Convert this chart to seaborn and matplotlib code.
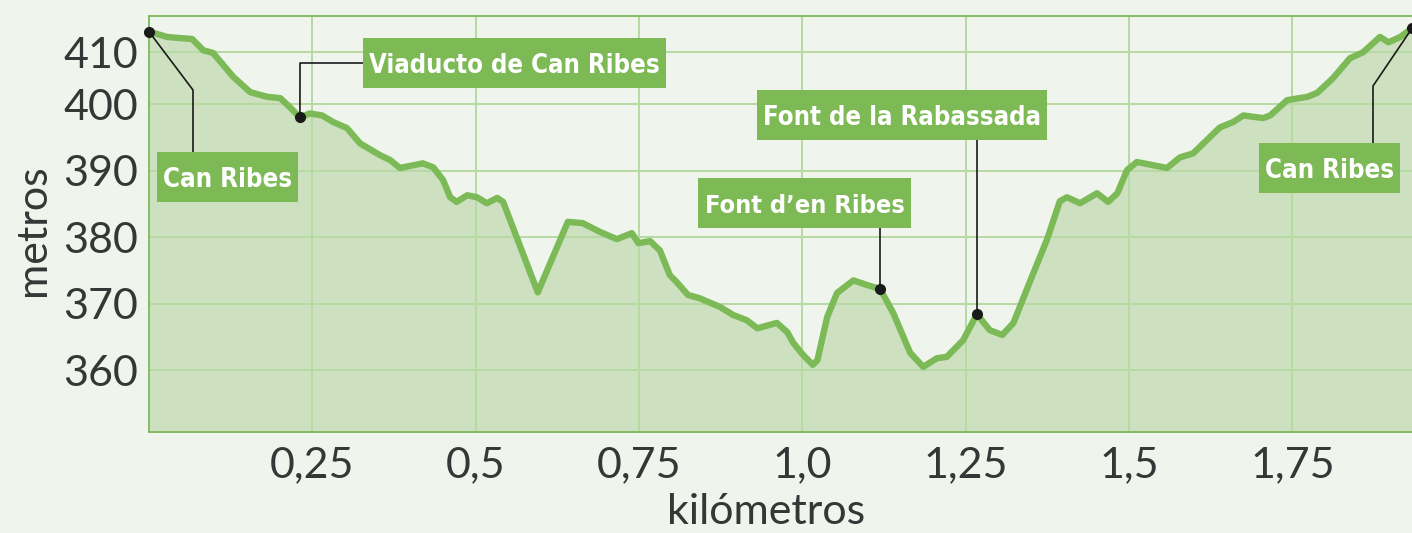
import numpy as np
import pandas as pd
import matplotlib
matplotlib.use("Agg")
import matplotlib.pyplot as plt
import seaborn as sns
from matplotlib.patches import Rectangle
from matplotlib import font_manager

# ---------------- data ----------------
km = [0.000, 0.028, 0.052, 0.066, 0.083, 0.098, 0.129, 0.155, 0.181, 0.201,
      0.216, 0.231, 0.246, 0.265, 0.282, 0.303, 0.323, 0.354, 0.369, 0.384,
      0.419, 0.435, 0.450, 0.461, 0.471, 0.487, 0.502, 0.517, 0.533, 0.542,
      0.595, 0.641, 0.664, 0.690, 0.716, 0.739, 0.749, 0.767, 0.782, 0.797,
      0.808, 0.825, 0.843, 0.874, 0.894, 0.915, 0.931, 0.961, 0.977, 0.986,
      1.001, 1.016, 1.023, 1.038, 1.053, 1.078, 1.099, 1.119, 1.139, 1.165,
      1.185, 1.206, 1.221, 1.246, 1.267, 1.287, 1.306, 1.323, 1.349, 1.375,
      1.394, 1.405, 1.425, 1.451, 1.468, 1.482, 1.497, 1.512, 1.558, 1.578,
      1.598, 1.639, 1.659, 1.675, 1.705, 1.716, 1.742, 1.773, 1.788, 1.812,
      1.838, 1.858, 1.884, 1.897, 1.915, 1.933]
elev = [410.9, 410.1, 409.9, 409.8, 408.1, 407.7, 404.1, 401.8, 401.1, 400.9,
        399.5, 398.0, 398.6, 398.3, 397.3, 396.4, 394.1, 392.3, 391.6, 390.4,
        391.1, 390.5, 388.6, 386.0, 385.3, 386.3, 386.0, 385.1, 385.9, 385.3,
        371.7, 382.3, 382.1, 380.8, 379.7, 380.6, 379.1, 379.4, 378.0, 374.3,
        373.2, 371.3, 370.8, 369.5, 368.3, 367.5, 366.3, 367.1, 365.7, 364.1,
        362.3, 360.8, 361.5, 368.0, 371.6, 373.5, 372.8, 372.2, 368.6, 362.6,
        360.5, 361.8, 362.0, 364.5, 368.4, 366.0, 365.3, 367.1, 373.5, 379.8,
        385.4, 386.0, 385.1, 386.6, 385.3, 386.6, 390.1, 391.3, 390.4, 392.0,
        392.6, 396.5, 397.3, 398.3, 397.9, 398.3, 400.6, 401.1, 401.7, 403.9,
        406.9, 407.8, 410.1, 409.3, 410.1, 411.4]

x_ticks = [0.25, 0.5, 0.75, 1.0, 1.25, 1.5, 1.75]
x_tick_labels = ["0,25", "0,5", "0,75", "1,0", "1,25", "1,5", "1,75"]
y_ticks = [360, 370, 380, 390, 400, 407.8]
y_tick_labels = ["360", "370", "380", "390", "400", "410"]

place_names = ["Can Ribes", "Viaducto de Can Ribes", "Font d\u2019en Ribes",
               "Font de la Rabassada", "Can Ribes"]
place_km = [0.000, 0.231, 1.119, 1.267, 1.933]

# ---------------- style ----------------
BG = "#eff5ec"
FILL = "#cde1c0"
LINE = "#7cb957"
GRID = "#b7d9a3"
BOX = "#7db954"
TXT = "#363636"

W, H = 1412, 533
sns.set_style("white", {"axes.facecolor": BG, "figure.facecolor": BG})
plt.rcParams["font.family"] = ["Lato", "DejaVu Sans"]

# pick a narrow bold face for the place labels if one is installed
entries = font_manager.fontManager.ttflist
names = {f.name for f in entries}
label_kw = dict(fontweight="bold")
if "Liberation Sans Narrow" in names:
    label_kw.update(family=["Liberation Sans Narrow", "DejaVu Sans"])
elif any(f.name == "DejaVu Sans" and f.stretch == "condensed" for f in entries):
    label_kw.update(family=["DejaVu Sans"], fontstretch="condensed")
else:
    label_kw.update(family=["Roboto", "DejaVu Sans"])

fig = plt.figure(figsize=(W / 100, H / 100), dpi=100, facecolor=BG)
AX_L, AX_R, AX_T, AX_B = 149, 1412, 15.7, 432
ax = fig.add_axes([AX_L / W, 1 - AX_B / H, (AX_R - AX_L) / W, (AX_B - AX_T) / H])
ax.set_facecolor(BG)

df = pd.DataFrame({"km": km, "elev": elev})
ax.set_xlim(0, 1.933)
ax.set_ylim(350.7, 413.3)

ax.fill_between(df["km"], df["elev"], 350.7, color=FILL, lw=0, zorder=1)
for xt in x_ticks:
    ax.axvline(xt, color=GRID, lw=1.4, zorder=1.5)
for yt in y_ticks:
    ax.axhline(yt, color=GRID, lw=1.4, zorder=1.5)
sns.lineplot(data=df, x="km", y="elev", ax=ax, color=LINE, lw=4.6,
             sort=False, estimator=None, zorder=3,
             solid_joinstyle="round", solid_capstyle="round")

for s in ["left", "bottom", "top"]:
    ax.spines[s].set_color(LINE)
    ax.spines[s].set_linewidth(1.3)
ax.spines["right"].set_visible(False)

ax.set_xticks(x_ticks)
ax.set_xticklabels(x_tick_labels)
ax.set_yticks(y_ticks)
ax.set_yticklabels(y_tick_labels)
ax.tick_params(axis="both", length=0, labelsize=31, labelcolor=TXT)
ax.tick_params(axis="x", pad=10)
ax.tick_params(axis="y", pad=8)

ax.set_xlabel("kil\u00f3metros", fontsize=31, color=TXT)
ax.set_ylabel("metros", fontsize=31, color=TXT)
ax.xaxis.set_label_coords((766 - AX_L) / (AX_R - AX_L), (AX_B - 493) / (AX_B - AX_T))
ax.yaxis.set_label_coords((52 - AX_L) / (AX_R - AX_L), (AX_B - 230) / (AX_B - AX_T))

# pixel -> data helpers for layout
def px2x(px):
    return (px - AX_L) / (AX_R - AX_L) * 1.933

def py2y(py):
    return 413.3 - (py - AX_T) / (AX_B - AX_T) * (413.3 - 350.7)

place_elev = [elev[km.index(k)] for k in place_km]

# boxes (pixel layout): x0, x1, y0, y1
boxes = [(157, 298, 152, 202), (363, 666, 38, 88), (698, 911, 178, 228),
         (757, 1047, 90, 140), (1259, 1400, 143, 193)]
# leader bends (pixel layout); end points sit on the data
leaders = [[(193, 90), (193, 152)],
           [(300, 63), (363, 63)],
           [(880, 228)],
           [(977, 140)],
           [(1373, 86), (1373, 143)]]

renderer = fig.canvas.get_renderer()
for name, pk, pe, (bx0, bx1, by0, by1), pts in zip(place_names, place_km, place_elev, boxes, leaders):
    xs = [pk] + [px2x(p[0]) for p in pts]
    ys = [pe] + [py2y(p[1]) for p in pts]
    if len(pts) == 1:
        xs[1] = pk
    ax.plot(xs, ys, color="#1a1a1a", lw=1.2, zorder=4, clip_on=False)
    ax.plot([pk], [pe], "o", color="#1a1a1a", ms=7, zorder=6, clip_on=False)
    x0, x1 = px2x(bx0), px2x(bx1)
    y0, y1 = py2y(by1), py2y(by0)
    ax.add_patch(Rectangle((x0, y0), x1 - x0, y1 - y0, facecolor=BOX,
                           edgecolor="none", zorder=5, clip_on=False))
    t = ax.text((x0 + x1) / 2, (y0 + y1) / 2, name, ha="center", va="center_baseline",
                color="white", fontsize=25, zorder=7, **label_kw)
    avail = (bx1 - bx0) - 12
    wpx = t.get_window_extent(renderer).width
    if wpx > avail:
        t.set_fontsize(25 * avail / wpx)

fig.savefig("out.png", dpi=100, facecolor=BG)
